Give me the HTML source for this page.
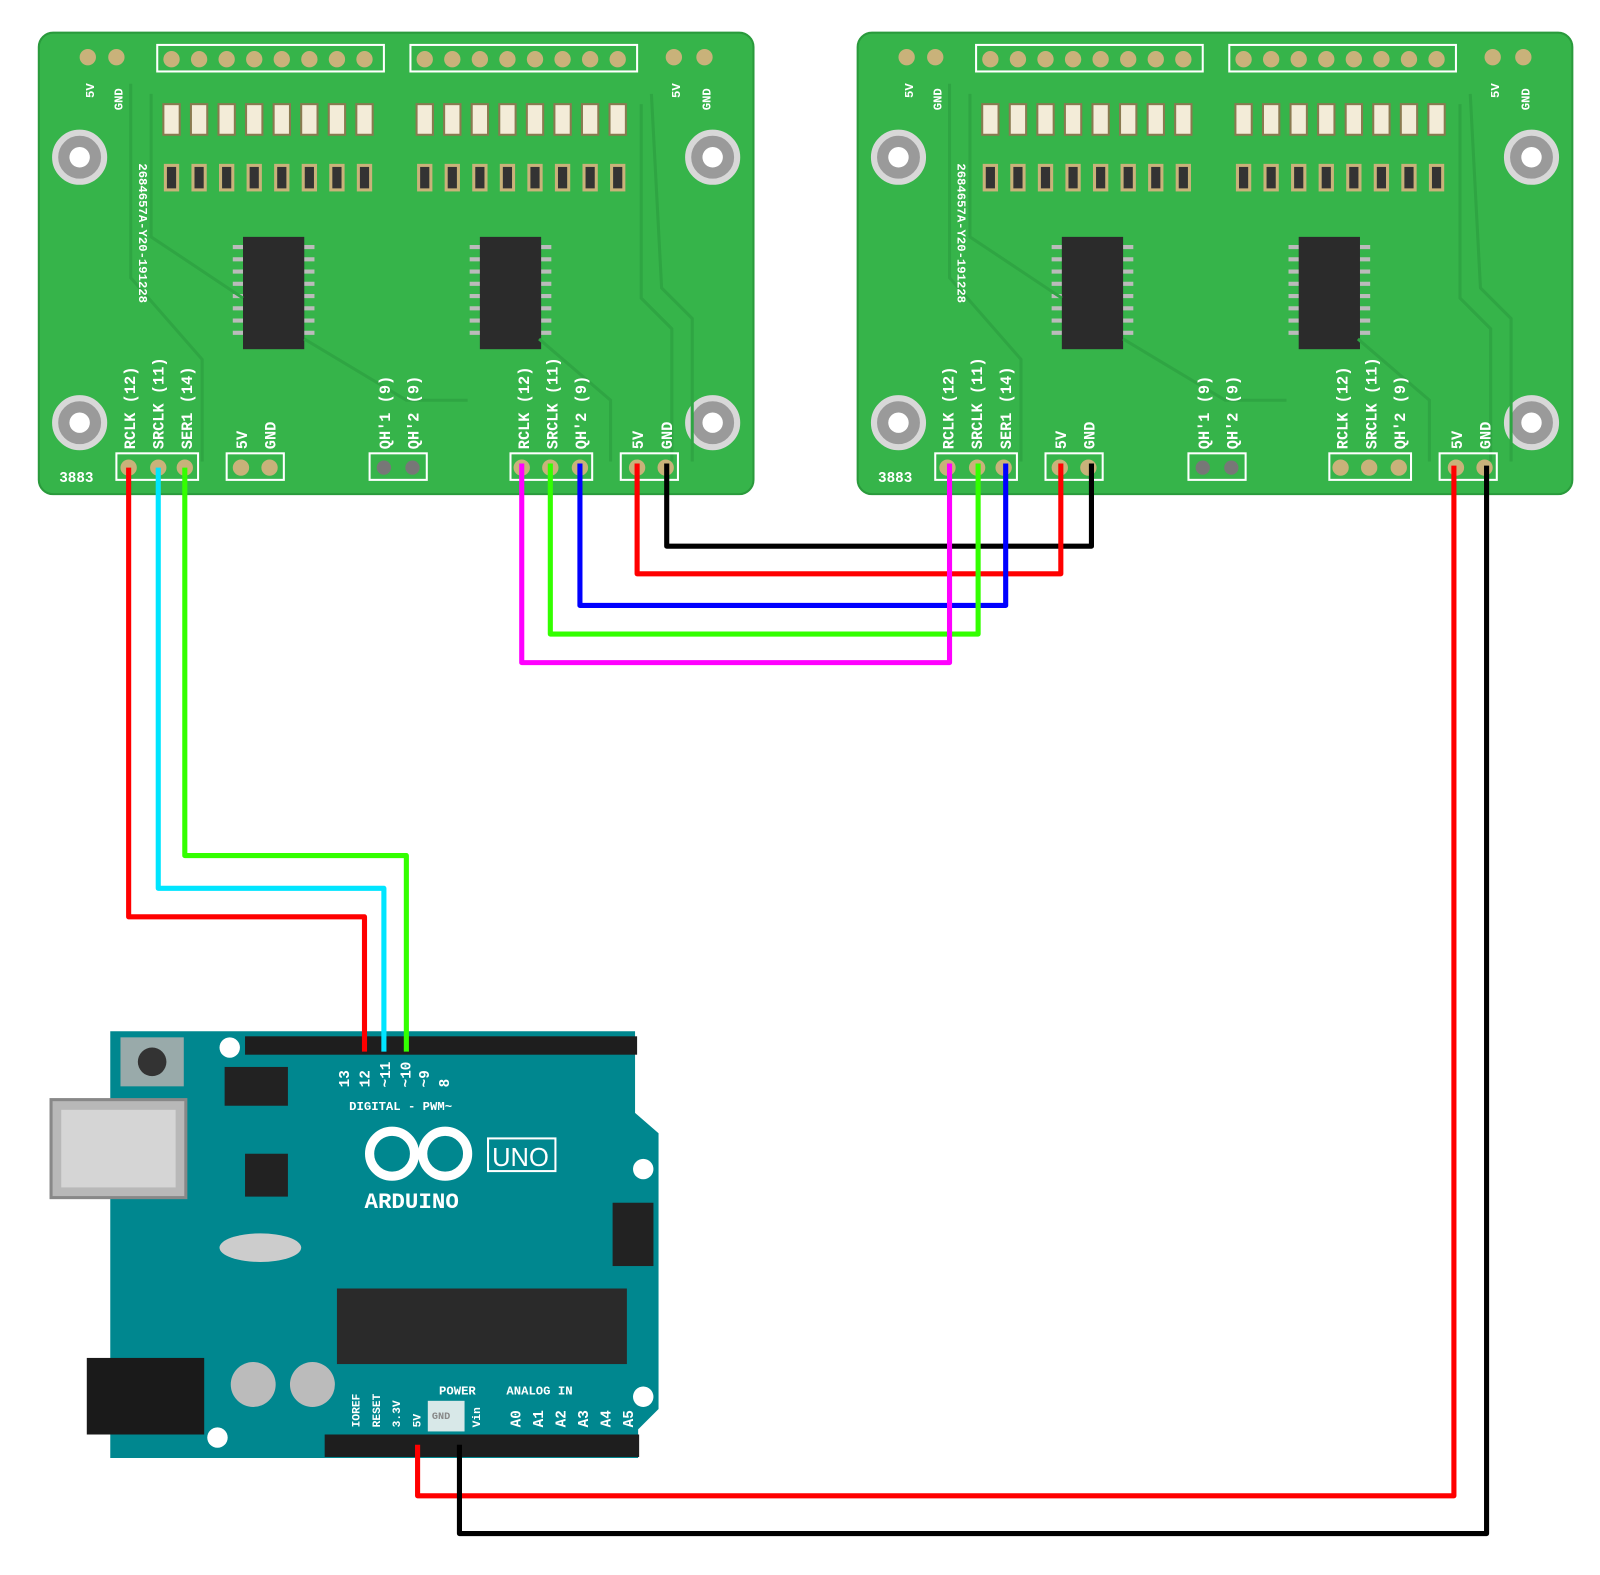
<!DOCTYPE html>
<html><head><meta charset="utf-8"><style>
html,body{margin:0;padding:0;background:#fff;overflow:hidden}
svg{display:block}
text{font-family:"Liberation Mono",monospace;font-weight:bold}
</style></head><body>
<svg width="1600" height="1575" viewBox="0 0 1600 1575" xmlns="http://www.w3.org/2000/svg">
<defs>
<g id="board">
  <rect x="0" y="0" width="700" height="452" rx="14" fill="#36b44a"/>
  <rect x="0" y="0" width="700" height="452" rx="14" fill="none" stroke="#2a9a3c" stroke-width="2"/>
  <g fill="#9a9a9a" stroke="#d8d8d8" stroke-width="6">
    <circle cx="40" cy="122" r="24"/><circle cx="660" cy="122" r="24"/>
    <circle cx="40" cy="382" r="24"/><circle cx="660" cy="382" r="24"/>
  </g>
  <g fill="#fff"><circle cx="40" cy="122" r="10"/><circle cx="660" cy="122" r="10"/><circle cx="40" cy="382" r="10"/><circle cx="660" cy="382" r="10"/></g>
  <rect x="116" y="12" width="222" height="26" fill="none" stroke="#fff" stroke-width="2"/>
  <rect x="364" y="12" width="222" height="26" fill="none" stroke="#fff" stroke-width="2"/>
  <g fill="#c9b27a">
    <circle cx="130" cy="26" r="8"/><circle cx="157" cy="26" r="8"/><circle cx="184" cy="26" r="8"/><circle cx="211" cy="26" r="8"/><circle cx="238" cy="26" r="8"/><circle cx="265" cy="26" r="8"/><circle cx="292" cy="26" r="8"/><circle cx="319" cy="26" r="8"/>
    <circle cx="378" cy="26" r="8"/><circle cx="405" cy="26" r="8"/><circle cx="432" cy="26" r="8"/><circle cx="459" cy="26" r="8"/><circle cx="486" cy="26" r="8"/><circle cx="513" cy="26" r="8"/><circle cx="540" cy="26" r="8"/><circle cx="567" cy="26" r="8"/>
    <circle cx="48" cy="24" r="8"/><circle cx="76" cy="24" r="8"/><circle cx="622" cy="24" r="8"/><circle cx="652" cy="24" r="8"/>
  </g>
  <g fill="#f3ecd8" stroke="#8a7a50" stroke-width="2">
    <rect x="122" y="70" width="16" height="30"/><rect x="149" y="70" width="16" height="30"/><rect x="176" y="70" width="16" height="30"/><rect x="203" y="70" width="16" height="30"/><rect x="230" y="70" width="16" height="30"/><rect x="257" y="70" width="16" height="30"/><rect x="284" y="70" width="16" height="30"/><rect x="311" y="70" width="16" height="30"/>
    <rect x="370" y="70" width="16" height="30"/><rect x="397" y="70" width="16" height="30"/><rect x="424" y="70" width="16" height="30"/><rect x="451" y="70" width="16" height="30"/><rect x="478" y="70" width="16" height="30"/><rect x="505" y="70" width="16" height="30"/><rect x="532" y="70" width="16" height="30"/><rect x="559" y="70" width="16" height="30"/>
  </g>
  <g fill="#333" stroke="#c9b27a" stroke-width="3">
    <rect x="124" y="130" width="12" height="24"/><rect x="151" y="130" width="12" height="24"/><rect x="178" y="130" width="12" height="24"/><rect x="205" y="130" width="12" height="24"/><rect x="232" y="130" width="12" height="24"/><rect x="259" y="130" width="12" height="24"/><rect x="286" y="130" width="12" height="24"/><rect x="313" y="130" width="12" height="24"/>
    <rect x="372" y="130" width="12" height="24"/><rect x="399" y="130" width="12" height="24"/><rect x="426" y="130" width="12" height="24"/><rect x="453" y="130" width="12" height="24"/><rect x="480" y="130" width="12" height="24"/><rect x="507" y="130" width="12" height="24"/><rect x="534" y="130" width="12" height="24"/><rect x="561" y="130" width="12" height="24"/>
  </g>
  <g stroke="#bbb" stroke-width="4">
    <path d="M190 210h16M190 222h16M190 234h16M190 246h16M190 258h16M190 270h16M190 282h16M190 294h16M254 210h16M254 222h16M254 234h16M254 246h16M254 258h16M254 270h16M254 282h16M254 294h16"/>
    <path d="M422 210h16M422 222h16M422 234h16M422 246h16M422 258h16M422 270h16M422 282h16M422 294h16M486 210h16M486 222h16M486 234h16M486 246h16M486 258h16M486 270h16M486 282h16M486 294h16"/>
  </g>
  <rect x="200" y="200" width="60" height="110" fill="#2b2b2b"/>
  <rect x="432" y="200" width="60" height="110" fill="#2b2b2b"/>
  <g fill="none" stroke="#2fa543" stroke-width="3">
    <path d="M590 70 L590 260 L620 290 L620 420"/><path d="M600 60 L610 250 L640 280 L640 420"/>
    <path d="M110 60 L110 200 L200 260"/><path d="M90 50 L90 240 L160 320 L160 420"/>
    <path d="M260 300 L360 360 L420 360"/><path d="M490 300 L560 360 L560 420"/>
  </g>
  <g fill="none" stroke="#fff" stroke-width="2">
    <rect x="76" y="412" width="80" height="26"/><rect x="184" y="412" width="56" height="26"/><rect x="324" y="412" width="56" height="26"/>
    <rect x="462" y="412" width="80" height="26"/><rect x="570" y="412" width="56" height="26"/>
  </g>
  <g fill="#c9b27a">
    <circle cx="88" cy="426" r="8"/><circle cx="117" cy="426" r="8"/><circle cx="143" cy="426" r="8"/>
    <circle cx="198" cy="426" r="8"/><circle cx="226" cy="426" r="8"/>
    <circle cx="338" cy="426" r="7" fill="#777"/><circle cx="366" cy="426" r="7" fill="#777"/>
    <circle cx="473" cy="426" r="8"/><circle cx="501" cy="426" r="8"/><circle cx="530" cy="426" r="8"/>
    <circle cx="586" cy="426" r="8"/><circle cx="614" cy="426" r="8"/>
  </g>
  <g fill="#fff" font-size="15">
    <text x="20" y="440" font-size="14">3883</text>
    <text transform="translate(98,128) rotate(90)" font-size="12">2684657A-Y20-191228</text>
    <text transform="translate(94,408) rotate(-90)">RCLK (12)</text>
    <text transform="translate(122,408) rotate(-90)">SRCLK (11)</text>
    <text transform="translate(150,408) rotate(-90)">SER1 (14)</text>
    <text transform="translate(204,408) rotate(-90)">5V</text>
    <text transform="translate(232,408) rotate(-90)">GND</text>
    <text transform="translate(344,408) rotate(-90)">QH'1 (9)</text>
    <text transform="translate(372,408) rotate(-90)">QH'2 (9)</text>
    <text transform="translate(480,408) rotate(-90)">RCLK (12)</text>
    <text transform="translate(508,408) rotate(-90)">SRCLK (11)</text>
    <text transform="translate(536,408) rotate(-90)">QH'2 (9)</text>
    <text transform="translate(592,408) rotate(-90)">5V</text>
    <text transform="translate(620,408) rotate(-90)">GND</text>
    <text transform="translate(54,64) rotate(-90)" font-size="12">5V</text>
    <text transform="translate(82,76) rotate(-90)" font-size="12">GND</text>
    <text transform="translate(628,64) rotate(-90)" font-size="12">5V</text>
    <text transform="translate(658,76) rotate(-90)" font-size="12">GND</text>
  </g>
</g>
</defs>
<g transform="scale(1.021)">
<use href="#board" x="38" y="32"/>
<use href="#board" x="840" y="32"/>

<g>
  <path d="M108 1010 L622 1010 L622 1090 L645 1110 L645 1380 L625 1400 L625 1428 L108 1428 Z" fill="#00878f"/>
  <rect x="50" y="1077" width="132" height="96" fill="#b8b8b8" stroke="#888" stroke-width="3"/>
  <rect x="60" y="1087" width="112" height="76" fill="#d5d5d5"/>
  <rect x="85" y="1330" width="115" height="75" fill="#1a1a1a"/>
  <rect x="240" y="1015" width="384" height="18" fill="#1e1e1e"/>
  <rect x="318" y="1405" width="308" height="22" fill="#1e1e1e"/>
  <rect x="330" y="1262" width="284" height="74" fill="#2a2a2a"/>
  <rect x="240" y="1130" width="42" height="42" fill="#222"/>
  <rect x="600" y="1178" width="40" height="62" fill="#222"/>
  <rect x="220" y="1045" width="62" height="38" fill="#222"/>
  <rect x="118" y="1016" width="62" height="48" fill="#9aa"/>
  <circle cx="149" cy="1040" r="14" fill="#333"/>
  <ellipse cx="255" cy="1222" rx="40" ry="14" fill="#ccc"/>
  <circle cx="248" cy="1356" r="22" fill="#bbb"/><circle cx="306" cy="1356" r="22" fill="#bbb"/>
  <circle cx="225" cy="1026" r="10" fill="#fff"/><circle cx="630" cy="1145" r="10" fill="#fff"/>
  <circle cx="213" cy="1408" r="10" fill="#fff"/><circle cx="630" cy="1368" r="10" fill="#fff"/>
  <rect x="419" y="1372" width="36" height="30" fill="#d8e8e8"/>
  <g fill="none" stroke="#fff" stroke-width="9"><circle cx="384" cy="1130" r="22"/><circle cx="436" cy="1130" r="22"/></g>
  <rect x="478" y="1115" width="66" height="32" fill="none" stroke="#fff" stroke-width="2"/>
  <text x="482" y="1142" fill="#fff" font-size="25" style="font-family:'Liberation Sans',sans-serif;font-weight:normal">UNO</text>
  <text x="357" y="1183" fill="#fff" font-size="22">ARDUINO</text>
  <text x="342" y="1087" fill="#fff" font-size="12">DIGITAL - PWM~</text>
  <text x="496" y="1366" fill="#fff" font-size="12">ANALOG IN</text>
  <text x="430" y="1366" fill="#fff" font-size="12">POWER</text>
  <text x="423" y="1390" fill="#888" font-size="10">GND</text>
  <g fill="#fff" font-size="14">
    <text transform="translate(362,1065) rotate(-90)">12</text>
    <text transform="translate(382,1065) rotate(-90)">~11</text>
    <text transform="translate(402,1065) rotate(-90)">~10</text>
    <text transform="translate(420,1065) rotate(-90)">~9</text>
    <text transform="translate(440,1065) rotate(-90)">8</text>
    <text transform="translate(342,1065) rotate(-90)">13</text>
    <text transform="translate(510,1398) rotate(-90)">A0</text>
    <text transform="translate(532,1398) rotate(-90)">A1</text>
    <text transform="translate(554,1398) rotate(-90)">A2</text>
    <text transform="translate(576,1398) rotate(-90)">A3</text>
    <text transform="translate(598,1398) rotate(-90)">A4</text>
    <text transform="translate(620,1398) rotate(-90)">A5</text>
    <text transform="translate(352,1398) rotate(-90)" font-size="11">IOREF</text>
    <text transform="translate(372,1398) rotate(-90)" font-size="11">RESET</text>
    <text transform="translate(392,1398) rotate(-90)" font-size="11">3.3V</text>
    <text transform="translate(412,1398) rotate(-90)" font-size="11">5V</text>
    <text transform="translate(470,1398) rotate(-90)" font-size="11">Vin</text>
  </g>
</g>

<g fill="none" stroke-width="5" stroke-linejoin="round">
  <path d="M126 458 V898 H357 V1030" stroke="#ff0000"/>
  <path d="M155 458 V870 H376 V1030" stroke="#00e5ff"/>
  <path d="M181 458 V838 H398 V1030" stroke="#33ff00"/>
  <path d="M653 454 V535 H1069 V454" stroke="#000"/>
  <path d="M624 454 V562 H1039 V454" stroke="#ff0000"/>
  <path d="M568 454 V593 H985 V454" stroke="#0000ff"/>
  <path d="M539 454 V621 H958 V454" stroke="#33ff00"/>
  <path d="M511 454 V649 H930 V454" stroke="#ff00ff"/>
  <path d="M409 1415 V1465 H1424 V456" stroke="#ff0000"/>
  <path d="M450 1415 V1502 H1456 V456" stroke="#000"/>
</g>
</g>
</svg>
</body></html>
